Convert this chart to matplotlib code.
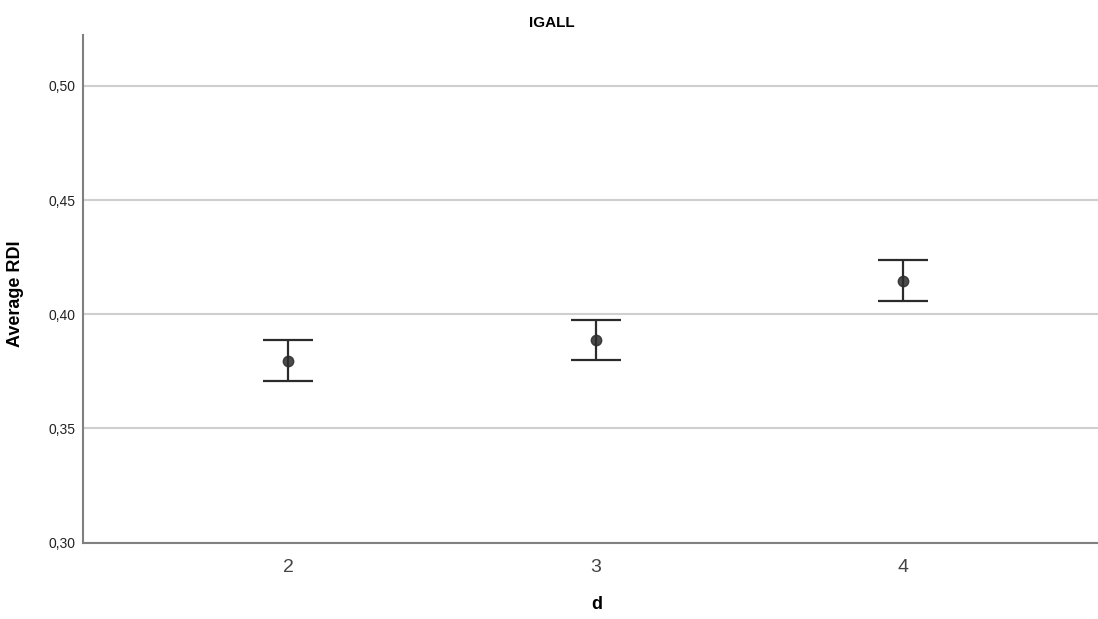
import matplotlib
matplotlib.use("Agg")
import numpy as np
import matplotlib.pyplot as plt

plt.rcParams['font.family'] = ['Liberation Sans', 'DejaVu Sans']

d_levels = [2, 3, 4]
mean_rdi = [0.3796, 0.3888, 0.4146]
ci_low = [0.3708, 0.3800, 0.4057]
ci_high = [0.3888, 0.3976, 0.4238]
y_ticks = [0.30, 0.35, 0.40, 0.45, 0.50]
y_ticklabels = ['0,30', '0,35', '0,40', '0,45', '0,50']


def main():
    fig = plt.figure(figsize=(10.98, 6.19), dpi=100)
    ax = fig.add_axes([0.076, 0.1233, 0.924, 0.8202])

    mean = np.array(mean_rdi)
    yerr = [mean - np.array(ci_low), np.array(ci_high) - mean]

    ax.errorbar(d_levels, mean, yerr=yerr, fmt='none', ecolor='#2b2b2b',
                elinewidth=1.6, capsize=18, capthick=1.6, zorder=3)
    ax.plot(d_levels, mean, 'o', color='#2b2b2b', alpha=0.85,
            markersize=7.5, zorder=4)

    ax.set_xlim(1.333, 4.635)
    ax.set_ylim(0.30, 0.5223)
    ax.set_xticks(d_levels)
    ax.set_xticklabels([str(v) for v in d_levels], fontsize=14, color='#444444')
    ax.set_yticks(y_ticks)
    ax.set_yticklabels(y_ticklabels, fontsize=10, color='#222222')
    ax.tick_params(length=0)
    ax.tick_params(axis='x', pad=12)
    ax.tick_params(axis='y', pad=6)

    ax.grid(axis='y', color='#cfcfcf', linewidth=1.5, zorder=0)
    ax.set_axisbelow(True)

    for side in ['top', 'right']:
        ax.spines[side].set_visible(False)
    for side in ['left', 'bottom']:
        ax.spines[side].set_color('#808080')
        ax.spines[side].set_linewidth(1.5)

    # label anchors: right edge of y label, top edge of x label (pixels)
    ax.set_ylabel('Average RDI', fontsize=13, fontweight='bold')
    ax.yaxis.set_label_coords(-(83.5 - 24) / 1014.5, 0.49)
    ax.set_xlabel('d', fontsize=13, fontweight='bold')
    ax.xaxis.set_label_coords((597 - 83.5) / 1014.5, -(596 - 543) / 508)
    fig.text(552 / 1098, 1 - 23 / 619, 'IGALL', ha='center', va='center',
             fontsize=11, fontweight='bold')

    fig.savefig('out.png', dpi=100)


if __name__ == "__main__":
    main()
